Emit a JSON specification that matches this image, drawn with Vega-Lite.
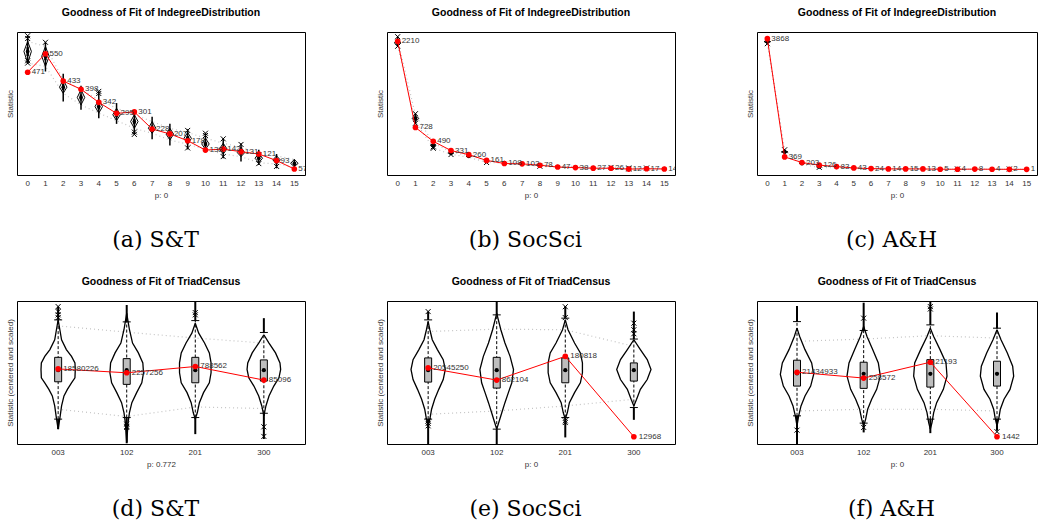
{
"$schema": "https://vega.github.io/schema/vega-lite/v6.json",
"padding": {"left": 5, "top": 7, "right": 0, "bottom": 0},
"config": {
  "font": "Liberation Sans",
  "view": {"stroke": "black", "strokeWidth": 1},
  "title": {"fontSize": 10.5, "fontWeight": "bold", "color": "black", "offset": 14},
  "axis": {"grid": false, "domain": false, "ticks": false, "labelFontSize": 8, "labelColor": "#333333", "titleFontSize": 8, "titleFontWeight": "normal", "titleColor": "#333333"},
  "axisX": {"labelAngle": 0, "labelPadding": 4, "titlePadding": 4},
  "axisY": {"labels": false, "titlePadding": 3}
},
"datasets": {
  "a_obs": [{"c":0,"v":471},{"c":1,"v":550},{"c":2,"v":433},{"c":3,"v":398},{"c":4,"v":342},{"c":5,"v":295},{"c":6,"v":301},{"c":7,"v":228},{"c":8,"v":207},{"c":9,"v":178},{"c":10,"v":138},{"c":11,"v":142},{"c":12,"v":131},{"c":13,"v":121},{"c":14,"v":93},{"c":15,"v":57}],
  "a_st": [
    {"c":0,"lo":507,"q1":540,"med":560,"q3":578,"hi":627,"vb":510,"vt":603},
    {"c":1,"lo":474,"q1":522,"med":539,"q3":556,"hi":599,"vb":496,"vt":581},
    {"c":2,"lo":346,"q1":395,"med":407,"q3":420,"hi":464,"vb":381,"vt":439},
    {"c":3,"lo":310,"q1":350,"med":363,"q3":376,"hi":413,"vb":331,"vt":396},
    {"c":4,"lo":274,"q1":312,"med":324,"q3":336,"hi":389,"vb":296,"vt":353},
    {"c":5,"lo":250,"q1":278,"med":289,"q3":300,"hi":339,"vb":264,"vt":317},
    {"c":6,"lo":203,"q1":248,"med":260,"q3":272,"hi":296,"vb":231,"vt":289},
    {"c":7,"lo":184,"q1":221,"med":231,"q3":243,"hi":281,"vb":210,"vt":260},
    {"c":8,"lo":157,"q1":196,"med":206,"q3":216,"hi":250,"vb":181,"vt":231},
    {"c":9,"lo":141,"q1":178,"med":188,"q3":198,"hi":227,"vb":163,"vt":213},
    {"c":10,"lo":131,"q1":154,"med":164,"q3":174,"hi":210,"vb":141,"vt":189},
    {"c":11,"lo":103,"q1":134,"med":143,"q3":153,"hi":189,"vb":121,"vt":167},
    {"c":12,"lo":89,"q1":119,"med":127,"q3":136,"hi":167,"vb":110,"vt":150},
    {"c":13,"lo":74,"q1":95,"med":103,"q3":111,"hi":139,"vb":84,"vt":124},
    {"c":14,"lo":60,"q1":89,"med":96,"q3":103,"hi":121,"vb":78,"vt":113},
    {"c":15,"lo":67,"q1":75,"med":81,"q3":87,"hi":98,"vb":67,"vt":98}],
  "a_vio": [
    {"c":0,"y":510,"w":0},{"c":0,"y":560,"w":0.42},{"c":0,"y":603,"w":0},
    {"c":1,"y":496,"w":0},{"c":1,"y":539,"w":0.42},{"c":1,"y":581,"w":0},
    {"c":2,"y":381,"w":0},{"c":2,"y":407,"w":0.42},{"c":2,"y":439,"w":0},
    {"c":3,"y":331,"w":0},{"c":3,"y":363,"w":0.42},{"c":3,"y":396,"w":0},
    {"c":4,"y":296,"w":0},{"c":4,"y":324,"w":0.42},{"c":4,"y":353,"w":0},
    {"c":5,"y":264,"w":0},{"c":5,"y":289,"w":0.42},{"c":5,"y":317,"w":0},
    {"c":6,"y":231,"w":0},{"c":6,"y":260,"w":0.42},{"c":6,"y":289,"w":0},
    {"c":7,"y":210,"w":0},{"c":7,"y":231,"w":0.42},{"c":7,"y":260,"w":0},
    {"c":8,"y":181,"w":0},{"c":8,"y":206,"w":0.42},{"c":8,"y":231,"w":0},
    {"c":9,"y":163,"w":0},{"c":9,"y":188,"w":0.42},{"c":9,"y":213,"w":0},
    {"c":10,"y":141,"w":0},{"c":10,"y":164,"w":0.42},{"c":10,"y":189,"w":0},
    {"c":11,"y":121,"w":0},{"c":11,"y":143,"w":0.42},{"c":11,"y":167,"w":0},
    {"c":12,"y":110,"w":0},{"c":12,"y":127,"w":0.42},{"c":12,"y":150,"w":0},
    {"c":13,"y":84,"w":0},{"c":13,"y":103,"w":0.42},{"c":13,"y":124,"w":0},
    {"c":14,"y":78,"w":0},{"c":14,"y":96,"w":0.42},{"c":14,"y":113,"w":0},
    {"c":15,"y":67,"w":0},{"c":15,"y":81,"w":0.42},{"c":15,"y":98,"w":0}],
  "a_out": [{"c":0,"y":627},{"c":0,"y":615},{"c":0,"y":520},{"c":0,"y":510},{"c":1,"y":599},{"c":4,"y":389},{"c":4,"y":380},{"c":6,"y":215},{"c":6,"y":205},{"c":9,"y":222},{"c":9,"y":147},{"c":10,"y":210},{"c":10,"y":200},{"c":11,"y":186},{"c":11,"y":110},{"c":12,"y":162},{"c":13,"y":118},{"c":13,"y":80},{"c":14,"y":68}],
  "b_obs": [{"c":0,"v":2210},{"c":1,"v":728},{"c":2,"v":490},{"c":3,"v":331},{"c":4,"v":260},{"c":5,"v":161},{"c":6,"v":108},{"c":7,"v":102},{"c":8,"v":78},{"c":9,"v":47},{"c":10,"v":38},{"c":11,"v":27},{"c":12,"v":26},{"c":13,"v":12},{"c":14,"v":17},{"c":15,"v":14}],
  "b_st": [
    {"c":0,"lo":2120,"q1":2165,"med":2185,"q3":2205,"hi":2290,"vb":2130,"vt":2240},
    {"c":1,"lo":786,"q1":865,"med":883,"q3":905,"hi":970,"vb":826,"vt":941},
    {"c":2,"lo":360,"q1":405,"med":421,"q3":435,"hi":470,"vb":375,"vt":461},
    {"c":3,"lo":255,"q1":278,"med":285,"q3":293,"hi":320,"vb":265,"vt":305},
    {"c":4,"lo":205,"q1":225,"med":231,"q3":238,"hi":255,"vb":215,"vt":245},
    {"c":5,"lo":120,"q1":138,"med":144,"q3":150,"hi":170,"vb":128,"vt":160},
    {"c":6,"lo":105,"q1":120,"med":125,"q3":130,"hi":150,"vb":112,"vt":140},
    {"c":7,"lo":82,"q1":96,"med":100,"q3":105,"hi":120,"vb":88,"vt":112},
    {"c":8,"lo":55,"q1":68,"med":72,"q3":77,"hi":95,"vb":60,"vt":85},
    {"c":9,"lo":40,"q1":52,"med":55,"q3":59,"hi":72,"vb":45,"vt":65},
    {"c":10,"lo":30,"q1":42,"med":45,"q3":48,"hi":62,"vb":35,"vt":55},
    {"c":11,"lo":22,"q1":32,"med":35,"q3":38,"hi":50,"vb":27,"vt":44},
    {"c":12,"lo":20,"q1":30,"med":33,"q3":36,"hi":48,"vb":25,"vt":42},
    {"c":13,"lo":10,"q1":19,"med":22,"q3":25,"hi":36,"vb":15,"vt":30},
    {"c":14,"lo":10,"q1":19,"med":22,"q3":25,"hi":36,"vb":15,"vt":30},
    {"c":15,"lo":8,"q1":15,"med":18,"q3":21,"hi":30,"vb":12,"vt":25}],
  "b_vio": [
    {"c":0,"y":2130,"w":0},{"c":0,"y":2185,"w":0.38},{"c":0,"y":2240,"w":0},
    {"c":1,"y":826,"w":0},{"c":1,"y":883,"w":0.38},{"c":1,"y":941,"w":0},
    {"c":2,"y":375,"w":0},{"c":2,"y":421,"w":0.3},{"c":2,"y":461,"w":0},
    {"c":3,"y":265,"w":0},{"c":3,"y":285,"w":0.3},{"c":3,"y":305,"w":0},
    {"c":4,"y":215,"w":0},{"c":4,"y":231,"w":0.3},{"c":4,"y":245,"w":0},
    {"c":5,"y":128,"w":0},{"c":5,"y":144,"w":0.3},{"c":5,"y":160,"w":0},
    {"c":6,"y":112,"w":0},{"c":6,"y":125,"w":0.25},{"c":6,"y":140,"w":0},
    {"c":7,"y":88,"w":0},{"c":7,"y":100,"w":0.25},{"c":7,"y":112,"w":0},
    {"c":8,"y":60,"w":0},{"c":8,"y":72,"w":0.25},{"c":8,"y":85,"w":0}],
  "b_out": [{"c":0,"y":2290},{"c":0,"y":2125},{"c":1,"y":965},{"c":1,"y":800},{"c":2,"y":395},{"c":2,"y":370},{"c":3,"y":262},{"c":5,"y":125},{"c":8,"y":60},{"c":12,"y":40},{"c":13,"y":30},{"c":13,"y":14},{"c":14,"y":30}],
  "c_obs": [{"c":0,"v":3868},{"c":1,"v":369},{"c":2,"v":203},{"c":3,"v":126},{"c":4,"v":83},{"c":5,"v":43},{"c":6,"v":24},{"c":7,"v":14},{"c":8,"v":15},{"c":9,"v":13},{"c":10,"v":5},{"c":11,"v":4},{"c":12,"v":8},{"c":13,"v":4},{"c":14,"v":2},{"c":15,"v":1}],
  "c_st": [
    {"c":0,"lo":3700,"q1":3750,"med":3780,"q3":3810,"hi":3860,"vb":3730,"vt":3840},
    {"c":1,"lo":460,"q1":500,"med":518,"q3":535,"hi":590,"vb":480,"vt":560},
    {"c":2,"lo":140,"q1":162,"med":173,"q3":185,"hi":220,"vb":150,"vt":200},
    {"c":3,"lo":45,"q1":65,"med":74,"q3":85,"hi":110,"vb":55,"vt":95},
    {"c":4,"lo":40,"q1":54,"med":60,"q3":66,"hi":85,"vb":45,"vt":75},
    {"c":5,"lo":20,"q1":33,"med":38,"q3":42,"hi":55,"vb":25,"vt":50},
    {"c":6,"lo":10,"q1":21,"med":25,"q3":29,"hi":40,"vb":15,"vt":35},
    {"c":7,"lo":5,"q1":15,"med":18,"q3":21,"hi":32,"vb":10,"vt":26},
    {"c":8,"lo":4,"q1":11,"med":14,"q3":17,"hi":26,"vb":7,"vt":21},
    {"c":9,"lo":2,"q1":8,"med":11,"q3":14,"hi":22,"vb":5,"vt":18},
    {"c":10,"lo":1,"q1":6,"med":8,"q3":10,"hi":18,"vb":3,"vt":14},
    {"c":11,"lo":0,"q1":4,"med":6,"q3":8,"hi":15,"vb":2,"vt":11},
    {"c":12,"lo":0,"q1":3,"med":5,"q3":7,"hi":13,"vb":1,"vt":10},
    {"c":13,"lo":0,"q1":2,"med":4,"q3":6,"hi":12,"vb":0,"vt":9},
    {"c":14,"lo":0,"q1":2,"med":3,"q3":5,"hi":10,"vb":0,"vt":8},
    {"c":15,"lo":0,"q1":1,"med":2,"q3":4,"hi":9,"vb":0,"vt":7}],
  "c_vio": [
    {"c":0,"y":3730,"w":0},{"c":0,"y":3780,"w":0.38},{"c":0,"y":3840,"w":0},
    {"c":1,"y":480,"w":0},{"c":1,"y":518,"w":0.38},{"c":1,"y":560,"w":0},
    {"c":2,"y":150,"w":0},{"c":2,"y":173,"w":0.3},{"c":2,"y":200,"w":0},
    {"c":3,"y":55,"w":0},{"c":3,"y":74,"w":0.3},{"c":3,"y":95,"w":0}],
  "c_out": [{"c":0,"y":3720},{"c":1,"y":580},{"c":3,"y":60},{"c":11,"y":14},{"c":14,"y":12}],
  "d_obs": [{"c":"003","v":52.5,"t":"18580226"},{"c":"102","v":49.8,"t":"2257256"},{"c":"201","v":54.2,"t":"788562"},{"c":"300","v":44.7,"t":"85096"}],
  "d_st": [
    {"c":"003","min":10.4,"capLo":17.4,"q1":43.5,"med":51.6,"q3":60.6,"capHi":86.8,"max":96.1,"qlo":24.3,"qhi":82.6},
    {"c":"102","min":0.5,"capLo":18.5,"q1":41.7,"med":51.6,"q3":59.7,"capHi":85.4,"max":97.2,"qlo":19.2,"qhi":78.2},
    {"c":"201","min":6.9,"capLo":18.5,"q1":42.8,"med":51.6,"q3":60.6,"capHi":86.3,"max":100,"qlo":25.9,"qhi":74.1},
    {"c":"300","min":3.5,"capLo":21.5,"q1":44.0,"med":51.6,"q3":58.8,"capHi":78.0,"max":88.0,"qlo":24.8,"qhi":70.6}],
  "d_vio": [
    {"c":"003","y":86.8,"w":0},{"c":"003","y":79.9,"w":0.05},{"c":"003","y":72.9,"w":0.10},{"c":"003","y":66.0,"w":0.24},{"c":"003","y":61.3,"w":0.39},{"c":"003","y":56.7,"w":0.49},{"c":"003","y":52.1,"w":0.50},{"c":"003","y":46.3,"w":0.49},{"c":"003","y":42.8,"w":0.39},{"c":"003","y":38.2,"w":0.27},{"c":"003","y":33.6,"w":0.17},{"c":"003","y":26.6,"w":0.10},{"c":"003","y":19.7,"w":0.06},{"c":"003","y":15.0,"w":0.03},{"c":"003","y":10.4,"w":0},
    {"c":"102","y":91.4,"w":0},{"c":"102","y":79.9,"w":0.08},{"c":"102","y":70.6,"w":0.17},{"c":"102","y":63.7,"w":0.34},{"c":"102","y":56.7,"w":0.47},{"c":"102","y":49.8,"w":0.49},{"c":"102","y":42.8,"w":0.44},{"c":"102","y":35.9,"w":0.29},{"c":"102","y":28.9,"w":0.15},{"c":"102","y":22.0,"w":0.08},{"c":"102","y":15.0,"w":0.04},{"c":"102","y":8.1,"w":0.02},{"c":"102","y":1.2,"w":0},
    {"c":"201","y":84.5,"w":0},{"c":"201","y":77.5,"w":0.10},{"c":"201","y":70.6,"w":0.27},{"c":"201","y":63.7,"w":0.41},{"c":"201","y":56.7,"w":0.46},{"c":"201","y":49.8,"w":0.46},{"c":"201","y":42.8,"w":0.41},{"c":"201","y":35.9,"w":0.24},{"c":"201","y":28.9,"w":0.12},{"c":"201","y":22.0,"w":0.06},{"c":"201","y":17.4,"w":0},
    {"c":"300","y":76.4,"w":0},{"c":"300","y":70.6,"w":0.15},{"c":"300","y":63.7,"w":0.34},{"c":"300","y":56.7,"w":0.47},{"c":"300","y":52.1,"w":0.49},{"c":"300","y":46.3,"w":0.44},{"c":"300","y":40.5,"w":0.29},{"c":"300","y":33.6,"w":0.15},{"c":"300","y":26.6,"w":0.06},{"c":"300","y":19.7,"w":0}],
  "d_out": [{"c":"003","y":96.1},{"c":"003","y":92.6},{"c":"003","y":90.3},{"c":"003","y":88.4},{"c":"102","y":13.9},{"c":"102","y":12.3},{"c":"102","y":11.6},{"c":"201","y":91.9},{"c":"201","y":90.3},{"c":"300","y":12.0},{"c":"300","y":5.3}],
  "e_obs": [{"c":"003","v":53.2,"t":"20545250"},{"c":"102","v":44.7,"t":"862104"},{"c":"201","v":61.3,"t":"180818"},{"c":"300","v":5.1,"t":"12968"}],
  "e_st": [
    {"c":"003","min":0,"capLo":17.4,"q1":43.3,"med":51.6,"q3":60.2,"capHi":86.8,"max":92.6,"qlo":20.8,"qhi":78.7},
    {"c":"102","min":0,"capLo":10.4,"q1":39.1,"med":51.6,"q3":60.6,"capHi":90.3,"max":100,"qlo":23.1,"qhi":80.3},
    {"c":"201","min":4.6,"capLo":18.5,"q1":42.8,"med":51.6,"q3":60.2,"capHi":88.0,"max":96.5,"qlo":26.6,"qhi":79.9},
    {"c":"300","min":16.9,"capLo":25.5,"q1":44.0,"med":51.6,"q3":56.7,"capHi":73.4,"max":92.6,"qlo":31.3,"qhi":68.3}],
  "e_vio": [
    {"c":"003","y":85.6,"w":0},{"c":"003","y":79.9,"w":0.05},{"c":"003","y":72.9,"w":0.12},{"c":"003","y":66.0,"w":0.27},{"c":"003","y":59.0,"w":0.44},{"c":"003","y":52.1,"w":0.50},{"c":"003","y":45.1,"w":0.44},{"c":"003","y":38.2,"w":0.31},{"c":"003","y":31.3,"w":0.19},{"c":"003","y":24.3,"w":0.10},{"c":"003","y":17.4,"w":0.05},{"c":"003","y":12.7,"w":0},
    {"c":"102","y":91.4,"w":0},{"c":"102","y":79.9,"w":0.12},{"c":"102","y":70.6,"w":0.24},{"c":"102","y":61.3,"w":0.39},{"c":"102","y":52.1,"w":0.49},{"c":"102","y":42.8,"w":0.44},{"c":"102","y":35.9,"w":0.34},{"c":"102","y":28.9,"w":0.24},{"c":"102","y":22.0,"w":0.15},{"c":"102","y":15.0,"w":0.06},{"c":"102","y":10.4,"w":0},
    {"c":"201","y":86.8,"w":0},{"c":"201","y":79.9,"w":0.08},{"c":"201","y":70.6,"w":0.27},{"c":"201","y":63.7,"w":0.44},{"c":"201","y":56.7,"w":0.50},{"c":"201","y":49.8,"w":0.50},{"c":"201","y":42.8,"w":0.44},{"c":"201","y":35.9,"w":0.27},{"c":"201","y":28.9,"w":0.12},{"c":"201","y":22.0,"w":0.06},{"c":"201","y":17.4,"w":0},
    {"c":"300","y":72.9,"w":0},{"c":"300","y":66.0,"w":0.19},{"c":"300","y":59.0,"w":0.39},{"c":"300","y":52.1,"w":0.50},{"c":"300","y":45.1,"w":0.39},{"c":"300","y":38.2,"w":0.19},{"c":"300","y":31.3,"w":0.08},{"c":"300","y":26.6,"w":0}],
  "e_out": [{"c":"003","y":92.6},{"c":"003","y":16.2},{"c":"003","y":14.4},{"c":"003","y":12.7},{"c":"201","y":96.0},{"c":"201","y":88.4},{"c":"201","y":16.2},{"c":"201","y":15.0},{"c":"300","y":84.5},{"c":"300","y":79.9},{"c":"300","y":77.1}],
  "f_obs": [{"c":"003","v":50.2,"t":"21434933"},{"c":"102","v":46.1,"t":"258572"},{"c":"201","v":57.2,"t":"21193"},{"c":"300","v":5.1,"t":"1442"}],
  "f_st": [
    {"c":"003","min":0,"capLo":19.7,"q1":40.5,"med":49.3,"q3":58.6,"capHi":85.6,"max":96.5,"qlo":23.1,"qhi":71.8},
    {"c":"102","min":8.1,"capLo":14.6,"q1":38.9,"med":49.1,"q3":57.2,"capHi":79.4,"max":98.8,"qlo":24.3,"qhi":73.4},
    {"c":"201","min":7.6,"capLo":17.4,"q1":39.8,"med":49.1,"q3":59.0,"capHi":83.3,"max":100,"qlo":24.3,"qhi":75.7},
    {"c":"300","min":9.3,"capLo":17.4,"q1":40.5,"med":49.1,"q3":57.9,"capHi":81.0,"max":91.9,"qlo":23.1,"qhi":74.1}],
  "f_vio": [
    {"c":"003","y":81.0,"w":0},{"c":"003","y":75.2,"w":0.08},{"c":"003","y":66.0,"w":0.24},{"c":"003","y":56.7,"w":0.44},{"c":"003","y":48.6,"w":0.50},{"c":"003","y":40.5,"w":0.41},{"c":"003","y":33.6,"w":0.24},{"c":"003","y":26.6,"w":0.12},{"c":"003","y":19.7,"w":0.05},{"c":"003","y":12.7,"w":0},
    {"c":"102","y":82.2,"w":0},{"c":"102","y":75.2,"w":0.10},{"c":"102","y":66.0,"w":0.27},{"c":"102","y":56.7,"w":0.44},{"c":"102","y":47.5,"w":0.50},{"c":"102","y":38.2,"w":0.39},{"c":"102","y":31.3,"w":0.24},{"c":"102","y":24.3,"w":0.12},{"c":"102","y":17.4,"w":0.06},{"c":"102","y":12.7,"w":0},
    {"c":"201","y":81.0,"w":0},{"c":"201","y":75.2,"w":0.10},{"c":"201","y":66.0,"w":0.29},{"c":"201","y":56.7,"w":0.47},{"c":"201","y":47.5,"w":0.50},{"c":"201","y":38.2,"w":0.39},{"c":"201","y":28.9,"w":0.19},{"c":"201","y":22.0,"w":0.10},{"c":"201","y":15.0,"w":0.05},{"c":"201","y":10.4,"w":0},
    {"c":"300","y":79.9,"w":0},{"c":"300","y":72.9,"w":0.12},{"c":"300","y":63.7,"w":0.31},{"c":"300","y":54.4,"w":0.47},{"c":"300","y":47.5,"w":0.50},{"c":"300","y":38.2,"w":0.39},{"c":"300","y":31.3,"w":0.21},{"c":"300","y":24.3,"w":0.10},{"c":"300","y":17.4,"w":0.05},{"c":"300","y":12.7,"w":0}],
  "f_out": [{"c":"003","y":9.7},{"c":"102","y":88.0},{"c":"102","y":11.6},{"c":"201","y":96.1},{"c":"201","y":94.4},{"c":"300","y":8.6}]
},
"spacing": 25,
"vconcat": [
{"hconcat": [
 {"title": {"text": "(a) S&T", "orient": "bottom", "anchor": "middle", "font": "DejaVu Serif", "fontSize": 22, "fontWeight": "normal", "color": "black", "offset": 30},
  "vconcat": [{
  "width": 288, "height": 143,
  "title": {"text": "Goodness of Fit of IndegreeDistribution"},
  "encoding": {"x": {"field": "c", "type": "ordinal", "scale": {"type": "band", "paddingInner": 0, "paddingOuter": 0.1}, "axis": {"title": "p: 0"}}},
  "resolve": {"scale": {"xOffset": "independent"}},
  "layer": [
   {"data": {"name": "a_st"}, "mark": {"type": "line", "color": "#c4c4c4", "strokeDash": [1, 3], "strokeWidth": 1.2, "clip": true}, "encoding": {"y": {"field": "vt", "type": "quantitative", "scale": {"domain": [31.3, 643], "nice": false, "zero": false}, "axis": {"title": "Statistic"}}}},
   {"data": {"name": "a_st"}, "mark": {"type": "line", "color": "#c4c4c4", "strokeDash": [1, 3], "strokeWidth": 1.2, "clip": true}, "encoding": {"y": {"field": "vb", "type": "quantitative"}}},
   {"data": {"name": "a_st"}, "mark": {"type": "rule", "color": "black", "strokeWidth": 1.5, "clip": true}, "encoding": {"y": {"field": "lo", "type": "quantitative"}, "y2": {"field": "hi"}}},
   {"data": {"name": "a_vio"}, "mark": {"type": "line", "color": "black", "strokeWidth": 1, "clip": true}, "encoding": {"y": {"field": "y", "type": "quantitative"}, "xOffset": {"field": "w", "type": "quantitative", "scale": {"domain": [-1, 1]}}, "detail": {"field": "c"}, "order": {"field": "y", "type": "quantitative"}}},
   {"data": {"name": "a_vio"}, "mark": {"type": "line", "color": "black", "strokeWidth": 1, "clip": true}, "encoding": {"y": {"field": "y", "type": "quantitative"}, "xOffset": {"field": "w", "type": "quantitative", "scale": {"domain": [-1, 1], "reverse": true}}, "detail": {"field": "c"}, "order": {"field": "y", "type": "quantitative"}}},
   {"data": {"name": "a_st"}, "mark": {"type": "bar", "width": 2.5, "color": "black", "clip": true}, "encoding": {"y": {"field": "q1", "type": "quantitative"}, "y2": {"field": "q3"}}},
   {"data": {"name": "a_st"}, "mark": {"type": "point", "filled": true, "color": "black", "size": 14, "opacity": 1}, "encoding": {"y": {"field": "med", "type": "quantitative"}}},
   {"data": {"name": "a_out"}, "mark": {"type": "point", "shape": "M-1,-1L1,1M1,-1L-1,1", "filled": false, "color": "black", "size": 25, "strokeWidth": 1, "opacity": 1, "clip": true}, "encoding": {"y": {"field": "y", "type": "quantitative"}}},
   {"data": {"name": "a_obs"}, "mark": {"type": "line", "color": "#ff0000", "strokeWidth": 1}, "encoding": {"y": {"field": "v", "type": "quantitative"}}},
   {"data": {"name": "a_obs"}, "mark": {"type": "point", "filled": true, "color": "#ff0000", "size": 32, "opacity": 1}, "encoding": {"y": {"field": "v", "type": "quantitative"}}},
   {"data": {"name": "a_obs"}, "mark": {"type": "text", "align": "left", "baseline": "middle", "dx": 4, "fontSize": 8, "color": "#333333", "clip": true}, "encoding": {"y": {"field": "v", "type": "quantitative"}, "text": {"field": "v", "type": "nominal"}}}
  ]}]
 },
 {"title": {"text": "(b) SocSci", "orient": "bottom", "anchor": "middle", "font": "DejaVu Serif", "fontSize": 22, "fontWeight": "normal", "color": "black", "offset": 30},
  "vconcat": [{
  "width": 288, "height": 143,
  "title": {"text": "Goodness of Fit of IndegreeDistribution"},
  "encoding": {"x": {"field": "c", "type": "ordinal", "scale": {"type": "band", "paddingInner": 0, "paddingOuter": 0.1}, "axis": {"title": "p: 0"}}},
  "resolve": {"scale": {"xOffset": "independent"}},
  "layer": [
   {"data": {"name": "b_st"}, "mark": {"type": "line", "color": "#c4c4c4", "strokeDash": [1, 3], "strokeWidth": 1.2, "clip": true}, "encoding": {"y": {"field": "vt", "type": "quantitative", "scale": {"domain": [-90, 2371], "nice": false, "zero": false}, "axis": {"title": "Statistic"}}}},
   {"data": {"name": "b_st"}, "mark": {"type": "line", "color": "#c4c4c4", "strokeDash": [1, 3], "strokeWidth": 1.2, "clip": true}, "encoding": {"y": {"field": "vb", "type": "quantitative"}}},
   {"data": {"name": "b_st"}, "mark": {"type": "rule", "color": "black", "strokeWidth": 1.5, "clip": true}, "encoding": {"y": {"field": "lo", "type": "quantitative"}, "y2": {"field": "hi"}}},
   {"data": {"name": "b_vio"}, "mark": {"type": "line", "color": "black", "strokeWidth": 1, "clip": true}, "encoding": {"y": {"field": "y", "type": "quantitative"}, "xOffset": {"field": "w", "type": "quantitative", "scale": {"domain": [-1, 1]}}, "detail": {"field": "c"}, "order": {"field": "y", "type": "quantitative"}}},
   {"data": {"name": "b_vio"}, "mark": {"type": "line", "color": "black", "strokeWidth": 1, "clip": true}, "encoding": {"y": {"field": "y", "type": "quantitative"}, "xOffset": {"field": "w", "type": "quantitative", "scale": {"domain": [-1, 1], "reverse": true}}, "detail": {"field": "c"}, "order": {"field": "y", "type": "quantitative"}}},
   {"data": {"name": "b_st"}, "mark": {"type": "bar", "width": 2.5, "color": "black", "clip": true}, "encoding": {"y": {"field": "q1", "type": "quantitative"}, "y2": {"field": "q3"}}},
   {"data": {"name": "b_st"}, "mark": {"type": "point", "filled": true, "color": "black", "size": 14, "opacity": 1}, "encoding": {"y": {"field": "med", "type": "quantitative"}}},
   {"data": {"name": "b_out"}, "mark": {"type": "point", "shape": "M-1,-1L1,1M1,-1L-1,1", "filled": false, "color": "black", "size": 25, "strokeWidth": 1, "opacity": 1, "clip": true}, "encoding": {"y": {"field": "y", "type": "quantitative"}}},
   {"data": {"name": "b_obs"}, "mark": {"type": "line", "color": "#ff0000", "strokeWidth": 1}, "encoding": {"y": {"field": "v", "type": "quantitative"}}},
   {"data": {"name": "b_obs"}, "mark": {"type": "point", "filled": true, "color": "#ff0000", "size": 32, "opacity": 1}, "encoding": {"y": {"field": "v", "type": "quantitative"}}},
   {"data": {"name": "b_obs"}, "mark": {"type": "text", "align": "left", "baseline": "middle", "dx": 4, "fontSize": 8, "color": "#333333", "clip": true}, "encoding": {"y": {"field": "v", "type": "quantitative"}, "text": {"field": "v", "type": "nominal"}}}
  ]}]
 },
 {"title": {"text": "(c) A&H", "orient": "bottom", "anchor": "middle", "font": "DejaVu Serif", "fontSize": 22, "fontWeight": "normal", "color": "black", "offset": 30},
  "vconcat": [{
  "width": 280, "height": 143,
  "title": {"text": "Goodness of Fit of IndegreeDistribution"},
  "encoding": {"x": {"field": "c", "type": "ordinal", "scale": {"type": "band", "paddingInner": 0, "paddingOuter": 0.1}, "axis": {"title": "p: 0"}}},
  "resolve": {"scale": {"xOffset": "independent"}},
  "layer": [
   {"data": {"name": "c_st"}, "mark": {"type": "line", "color": "#c4c4c4", "strokeDash": [1, 3], "strokeWidth": 1.2, "clip": true}, "encoding": {"y": {"field": "vt", "type": "quantitative", "scale": {"domain": [-166, 4066], "nice": false, "zero": false}, "axis": {"title": "Statistic"}}}},
   {"data": {"name": "c_st"}, "mark": {"type": "line", "color": "#c4c4c4", "strokeDash": [1, 3], "strokeWidth": 1.2, "clip": true}, "encoding": {"y": {"field": "vb", "type": "quantitative"}}},
   {"data": {"name": "c_st"}, "mark": {"type": "rule", "color": "black", "strokeWidth": 1.5, "clip": true}, "encoding": {"y": {"field": "lo", "type": "quantitative"}, "y2": {"field": "hi"}}},
   {"data": {"name": "c_vio"}, "mark": {"type": "line", "color": "black", "strokeWidth": 1, "clip": true}, "encoding": {"y": {"field": "y", "type": "quantitative"}, "xOffset": {"field": "w", "type": "quantitative", "scale": {"domain": [-1, 1]}}, "detail": {"field": "c"}, "order": {"field": "y", "type": "quantitative"}}},
   {"data": {"name": "c_vio"}, "mark": {"type": "line", "color": "black", "strokeWidth": 1, "clip": true}, "encoding": {"y": {"field": "y", "type": "quantitative"}, "xOffset": {"field": "w", "type": "quantitative", "scale": {"domain": [-1, 1], "reverse": true}}, "detail": {"field": "c"}, "order": {"field": "y", "type": "quantitative"}}},
   {"data": {"name": "c_st"}, "mark": {"type": "bar", "width": 2.5, "color": "black", "clip": true}, "encoding": {"y": {"field": "q1", "type": "quantitative"}, "y2": {"field": "q3"}}},
   {"data": {"name": "c_st"}, "mark": {"type": "point", "filled": true, "color": "black", "size": 14, "opacity": 1}, "encoding": {"y": {"field": "med", "type": "quantitative"}}},
   {"data": {"name": "c_out"}, "mark": {"type": "point", "shape": "M-1,-1L1,1M1,-1L-1,1", "filled": false, "color": "black", "size": 25, "strokeWidth": 1, "opacity": 1, "clip": true}, "encoding": {"y": {"field": "y", "type": "quantitative"}}},
   {"data": {"name": "c_obs"}, "mark": {"type": "line", "color": "#ff0000", "strokeWidth": 1}, "encoding": {"y": {"field": "v", "type": "quantitative"}}},
   {"data": {"name": "c_obs"}, "mark": {"type": "point", "filled": true, "color": "#ff0000", "size": 32, "opacity": 1}, "encoding": {"y": {"field": "v", "type": "quantitative"}}},
   {"data": {"name": "c_obs"}, "mark": {"type": "text", "align": "left", "baseline": "middle", "dx": 4, "fontSize": 8, "color": "#333333", "clip": true}, "encoding": {"y": {"field": "v", "type": "quantitative"}, "text": {"field": "v", "type": "nominal"}}}
  ]}]
 }
], "spacing": 69},
{"hconcat": [
 {"title": {"text": "(d) S&T", "orient": "bottom", "anchor": "middle", "font": "DejaVu Serif", "fontSize": 22, "fontWeight": "normal", "color": "black", "offset": 30},
  "vconcat": [{
  "width": 288, "height": 143,
  "title": {"text": "Goodness of Fit of TriadCensus"},
  "encoding": {"x": {"field": "c", "type": "ordinal", "scale": {"type": "band", "paddingInner": 0, "paddingOuter": 0.1}, "axis": {"title": "p: 0.772"}}},
  "resolve": {"scale": {"xOffset": "independent"}},
  "layer": [
   {"data": {"name": "d_st"}, "mark": {"type": "line", "color": "#c4c4c4", "strokeDash": [1, 3], "strokeWidth": 1.2, "clip": true}, "encoding": {"y": {"field": "qhi", "type": "quantitative", "scale": {"domain": [0, 100], "nice": false, "zero": false}, "axis": {"title": "Statistic (centered and scaled)"}}}},
   {"data": {"name": "d_st"}, "mark": {"type": "line", "color": "#c4c4c4", "strokeDash": [1, 3], "strokeWidth": 1.2, "clip": true}, "encoding": {"y": {"field": "qlo", "type": "quantitative"}}},
   {"data": {"name": "d_vio"}, "mark": {"type": "line", "color": "black", "strokeWidth": 1.3, "clip": true}, "encoding": {"y": {"field": "y", "type": "quantitative"}, "xOffset": {"field": "w", "type": "quantitative", "scale": {"domain": [-1, 1]}}, "detail": {"field": "c"}, "order": {"field": "y", "type": "quantitative"}}},
   {"data": {"name": "d_vio"}, "mark": {"type": "line", "color": "black", "strokeWidth": 1.3, "clip": true}, "encoding": {"y": {"field": "y", "type": "quantitative"}, "xOffset": {"field": "w", "type": "quantitative", "scale": {"domain": [-1, 1], "reverse": true}}, "detail": {"field": "c"}, "order": {"field": "y", "type": "quantitative"}}},
   {"data": {"name": "d_st"}, "mark": {"type": "rule", "color": "black", "strokeWidth": 2, "clip": true}, "encoding": {"y": {"field": "min", "type": "quantitative"}, "y2": {"field": "capLo"}}},
   {"data": {"name": "d_st"}, "mark": {"type": "rule", "color": "black", "strokeWidth": 2, "clip": true}, "encoding": {"y": {"field": "capHi", "type": "quantitative"}, "y2": {"field": "max"}}},
   {"data": {"name": "d_st"}, "mark": {"type": "rule", "color": "black", "strokeWidth": 1, "strokeDash": [3, 2], "clip": true}, "encoding": {"y": {"field": "capLo", "type": "quantitative"}, "y2": {"field": "capHi"}}},
   {"data": {"name": "d_st"}, "mark": {"type": "tick", "color": "black", "size": 8, "thickness": 1, "opacity": 1}, "encoding": {"y": {"field": "capLo", "type": "quantitative"}}},
   {"data": {"name": "d_st"}, "mark": {"type": "tick", "color": "black", "size": 8, "thickness": 1, "opacity": 1}, "encoding": {"y": {"field": "capHi", "type": "quantitative"}}},
   {"data": {"name": "d_st"}, "mark": {"type": "bar", "width": 7, "fill": "#bebebe", "stroke": "black", "strokeWidth": 1}, "encoding": {"y": {"field": "q1", "type": "quantitative"}, "y2": {"field": "q3"}}},
   {"data": {"name": "d_st"}, "mark": {"type": "point", "filled": true, "color": "black", "size": 18, "opacity": 1}, "encoding": {"y": {"field": "med", "type": "quantitative"}}},
   {"data": {"name": "d_out"}, "mark": {"type": "point", "shape": "M-1,-1L1,1M1,-1L-1,1", "filled": false, "color": "black", "size": 25, "strokeWidth": 1, "opacity": 1, "clip": true}, "encoding": {"y": {"field": "y", "type": "quantitative"}}},
   {"data": {"name": "d_obs"}, "mark": {"type": "line", "color": "#ff0000", "strokeWidth": 1}, "encoding": {"y": {"field": "v", "type": "quantitative"}}},
   {"data": {"name": "d_obs"}, "mark": {"type": "point", "filled": true, "color": "#ff0000", "size": 32, "opacity": 1}, "encoding": {"y": {"field": "v", "type": "quantitative"}}},
   {"data": {"name": "d_obs"}, "mark": {"type": "text", "align": "left", "baseline": "middle", "dx": 5, "fontSize": 8, "color": "#333333", "clip": true}, "encoding": {"y": {"field": "v", "type": "quantitative"}, "text": {"field": "t", "type": "nominal"}}}
  ]}]
 },
 {"title": {"text": "(e) SocSci", "orient": "bottom", "anchor": "middle", "font": "DejaVu Serif", "fontSize": 22, "fontWeight": "normal", "color": "black", "offset": 30},
  "vconcat": [{
  "width": 288, "height": 143,
  "title": {"text": "Goodness of Fit of TriadCensus"},
  "encoding": {"x": {"field": "c", "type": "ordinal", "scale": {"type": "band", "paddingInner": 0, "paddingOuter": 0.1}, "axis": {"title": "p: 0"}}},
  "resolve": {"scale": {"xOffset": "independent"}},
  "layer": [
   {"data": {"name": "e_st"}, "mark": {"type": "line", "color": "#c4c4c4", "strokeDash": [1, 3], "strokeWidth": 1.2, "clip": true}, "encoding": {"y": {"field": "qhi", "type": "quantitative", "scale": {"domain": [0, 100], "nice": false, "zero": false}, "axis": {"title": "Statistic (centered and scaled)"}}}},
   {"data": {"name": "e_st"}, "mark": {"type": "line", "color": "#c4c4c4", "strokeDash": [1, 3], "strokeWidth": 1.2, "clip": true}, "encoding": {"y": {"field": "qlo", "type": "quantitative"}}},
   {"data": {"name": "e_vio"}, "mark": {"type": "line", "color": "black", "strokeWidth": 1.3, "clip": true}, "encoding": {"y": {"field": "y", "type": "quantitative"}, "xOffset": {"field": "w", "type": "quantitative", "scale": {"domain": [-1, 1]}}, "detail": {"field": "c"}, "order": {"field": "y", "type": "quantitative"}}},
   {"data": {"name": "e_vio"}, "mark": {"type": "line", "color": "black", "strokeWidth": 1.3, "clip": true}, "encoding": {"y": {"field": "y", "type": "quantitative"}, "xOffset": {"field": "w", "type": "quantitative", "scale": {"domain": [-1, 1], "reverse": true}}, "detail": {"field": "c"}, "order": {"field": "y", "type": "quantitative"}}},
   {"data": {"name": "e_st"}, "mark": {"type": "rule", "color": "black", "strokeWidth": 2, "clip": true}, "encoding": {"y": {"field": "min", "type": "quantitative"}, "y2": {"field": "capLo"}}},
   {"data": {"name": "e_st"}, "mark": {"type": "rule", "color": "black", "strokeWidth": 2, "clip": true}, "encoding": {"y": {"field": "capHi", "type": "quantitative"}, "y2": {"field": "max"}}},
   {"data": {"name": "e_st"}, "mark": {"type": "rule", "color": "black", "strokeWidth": 1, "strokeDash": [3, 2], "clip": true}, "encoding": {"y": {"field": "capLo", "type": "quantitative"}, "y2": {"field": "capHi"}}},
   {"data": {"name": "e_st"}, "mark": {"type": "tick", "color": "black", "size": 8, "thickness": 1, "opacity": 1}, "encoding": {"y": {"field": "capLo", "type": "quantitative"}}},
   {"data": {"name": "e_st"}, "mark": {"type": "tick", "color": "black", "size": 8, "thickness": 1, "opacity": 1}, "encoding": {"y": {"field": "capHi", "type": "quantitative"}}},
   {"data": {"name": "e_st"}, "mark": {"type": "bar", "width": 7, "fill": "#bebebe", "stroke": "black", "strokeWidth": 1}, "encoding": {"y": {"field": "q1", "type": "quantitative"}, "y2": {"field": "q3"}}},
   {"data": {"name": "e_st"}, "mark": {"type": "point", "filled": true, "color": "black", "size": 18, "opacity": 1}, "encoding": {"y": {"field": "med", "type": "quantitative"}}},
   {"data": {"name": "e_out"}, "mark": {"type": "point", "shape": "M-1,-1L1,1M1,-1L-1,1", "filled": false, "color": "black", "size": 25, "strokeWidth": 1, "opacity": 1, "clip": true}, "encoding": {"y": {"field": "y", "type": "quantitative"}}},
   {"data": {"name": "e_obs"}, "mark": {"type": "line", "color": "#ff0000", "strokeWidth": 1}, "encoding": {"y": {"field": "v", "type": "quantitative"}}},
   {"data": {"name": "e_obs"}, "mark": {"type": "point", "filled": true, "color": "#ff0000", "size": 32, "opacity": 1}, "encoding": {"y": {"field": "v", "type": "quantitative"}}},
   {"data": {"name": "e_obs"}, "mark": {"type": "text", "align": "left", "baseline": "middle", "dx": 5, "fontSize": 8, "color": "#333333", "clip": true}, "encoding": {"y": {"field": "v", "type": "quantitative"}, "text": {"field": "t", "type": "nominal"}}}
  ]}]
 },
 {"title": {"text": "(f) A&H", "orient": "bottom", "anchor": "middle", "font": "DejaVu Serif", "fontSize": 22, "fontWeight": "normal", "color": "black", "offset": 30},
  "vconcat": [{
  "width": 280, "height": 143,
  "title": {"text": "Goodness of Fit of TriadCensus"},
  "encoding": {"x": {"field": "c", "type": "ordinal", "scale": {"type": "band", "paddingInner": 0, "paddingOuter": 0.1}, "axis": {"title": "p: 0"}}},
  "resolve": {"scale": {"xOffset": "independent"}},
  "layer": [
   {"data": {"name": "f_st"}, "mark": {"type": "line", "color": "#c4c4c4", "strokeDash": [1, 3], "strokeWidth": 1.2, "clip": true}, "encoding": {"y": {"field": "qhi", "type": "quantitative", "scale": {"domain": [0, 100], "nice": false, "zero": false}, "axis": {"title": "Statistic (centered and scaled)"}}}},
   {"data": {"name": "f_st"}, "mark": {"type": "line", "color": "#c4c4c4", "strokeDash": [1, 3], "strokeWidth": 1.2, "clip": true}, "encoding": {"y": {"field": "qlo", "type": "quantitative"}}},
   {"data": {"name": "f_vio"}, "mark": {"type": "line", "color": "black", "strokeWidth": 1.3, "clip": true}, "encoding": {"y": {"field": "y", "type": "quantitative"}, "xOffset": {"field": "w", "type": "quantitative", "scale": {"domain": [-1, 1]}}, "detail": {"field": "c"}, "order": {"field": "y", "type": "quantitative"}}},
   {"data": {"name": "f_vio"}, "mark": {"type": "line", "color": "black", "strokeWidth": 1.3, "clip": true}, "encoding": {"y": {"field": "y", "type": "quantitative"}, "xOffset": {"field": "w", "type": "quantitative", "scale": {"domain": [-1, 1], "reverse": true}}, "detail": {"field": "c"}, "order": {"field": "y", "type": "quantitative"}}},
   {"data": {"name": "f_st"}, "mark": {"type": "rule", "color": "black", "strokeWidth": 2, "clip": true}, "encoding": {"y": {"field": "min", "type": "quantitative"}, "y2": {"field": "capLo"}}},
   {"data": {"name": "f_st"}, "mark": {"type": "rule", "color": "black", "strokeWidth": 2, "clip": true}, "encoding": {"y": {"field": "capHi", "type": "quantitative"}, "y2": {"field": "max"}}},
   {"data": {"name": "f_st"}, "mark": {"type": "rule", "color": "black", "strokeWidth": 1, "strokeDash": [3, 2], "clip": true}, "encoding": {"y": {"field": "capLo", "type": "quantitative"}, "y2": {"field": "capHi"}}},
   {"data": {"name": "f_st"}, "mark": {"type": "tick", "color": "black", "size": 8, "thickness": 1, "opacity": 1}, "encoding": {"y": {"field": "capLo", "type": "quantitative"}}},
   {"data": {"name": "f_st"}, "mark": {"type": "tick", "color": "black", "size": 8, "thickness": 1, "opacity": 1}, "encoding": {"y": {"field": "capHi", "type": "quantitative"}}},
   {"data": {"name": "f_st"}, "mark": {"type": "bar", "width": 7, "fill": "#bebebe", "stroke": "black", "strokeWidth": 1}, "encoding": {"y": {"field": "q1", "type": "quantitative"}, "y2": {"field": "q3"}}},
   {"data": {"name": "f_st"}, "mark": {"type": "point", "filled": true, "color": "black", "size": 18, "opacity": 1}, "encoding": {"y": {"field": "med", "type": "quantitative"}}},
   {"data": {"name": "f_out"}, "mark": {"type": "point", "shape": "M-1,-1L1,1M1,-1L-1,1", "filled": false, "color": "black", "size": 25, "strokeWidth": 1, "opacity": 1, "clip": true}, "encoding": {"y": {"field": "y", "type": "quantitative"}}},
   {"data": {"name": "f_obs"}, "mark": {"type": "line", "color": "#ff0000", "strokeWidth": 1}, "encoding": {"y": {"field": "v", "type": "quantitative"}}},
   {"data": {"name": "f_obs"}, "mark": {"type": "point", "filled": true, "color": "#ff0000", "size": 32, "opacity": 1}, "encoding": {"y": {"field": "v", "type": "quantitative"}}},
   {"data": {"name": "f_obs"}, "mark": {"type": "text", "align": "left", "baseline": "middle", "dx": 5, "fontSize": 8, "color": "#333333", "clip": true}, "encoding": {"y": {"field": "v", "type": "quantitative"}, "text": {"field": "t", "type": "nominal"}}}
  ]}]
 }
], "spacing": 69}
]
}
